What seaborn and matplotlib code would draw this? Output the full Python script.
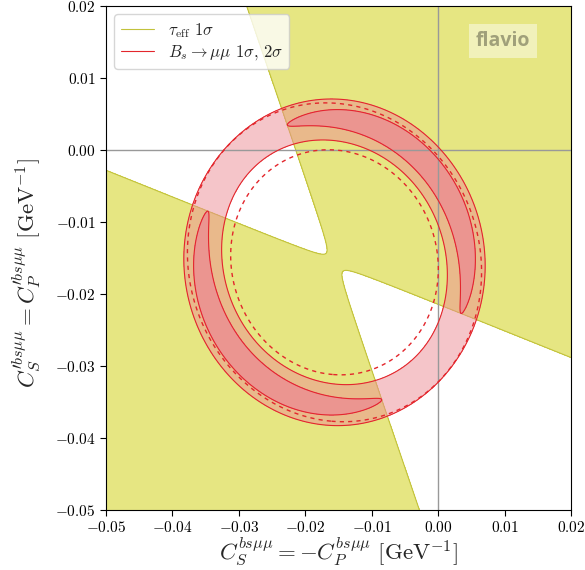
import numpy as np
import matplotlib
matplotlib.use('Agg')
import matplotlib.pyplot as plt
import seaborn as sns
from matplotlib.lines import Line2D

# centre of the Bs->mumu ring in the (C_S, C_S') plane
CENTER = [-0.0156, -0.0156]

# Bs->mumu branching ratio (solid, filled)
BS_R0 = 0.0200
BS_ERR = 0.1306
BS_YS = 0.05

# second Bs->mumu ring (dashed)
DASH_R0 = 0.01913
DASH_ERR = 0.1347
DASH_YS = 0.06

# effective lifetime -> A_DeltaGamma
ADG_MEAS = 2.29
ADG_ERR = 1.94
EPS = 0.0013

SIGMA_LEVELS = [2.30, 6.18]

X_RANGE = [-0.05, 0.02]
Y_RANGE = [-0.05, 0.02]
X_TICKS = [-0.05, -0.04, -0.03, -0.02, -0.01, 0.00, 0.01, 0.02]
Y_TICKS = [-0.05, -0.04, -0.03, -0.02, -0.01, 0.00, 0.01, 0.02]

YELLOW = '#e6e682'
OLIVE = '#c2c23c'
RED = '#e3262c'
PINK_2S = '#ed8d95'
PINK_1S = '#f0609a'

sns.set_style('ticks')
plt.rcParams.update({
    'font.family': 'serif',
    'font.serif': ['cmr10'],
    'mathtext.fontset': 'cm',
    'axes.formatter.use_mathtext': True,
    'axes.linewidth': 0.8,
})

# likelihood grid
xs = np.linspace(X_RANGE[0], X_RANGE[1], 801)
ys = np.linspace(Y_RANGE[0], Y_RANGE[1], 801)
xx, yy = np.meshgrid(xs, ys)
dx = xx - CENTER[0]
dy = yy - CENTER[1]
u = (dx - dy) / np.sqrt(2)
v = (dx + dy) / np.sqrt(2)
r2 = dx**2 + dy**2
adg = (v**2 - u**2) / (v**2 + u**2 + EPS**2)

chi2_tau = ((adg - ADG_MEAS) / ADG_ERR)**2
chi2_bs = ((r2 * (1 + BS_YS * adg) / BS_R0**2 - 1) / BS_ERR)**2
chi2_comb = chi2_bs + chi2_tau
chi2_dash = ((r2 * (1 + DASH_YS * adg) / DASH_R0**2 - 1) / DASH_ERR)**2

fig, ax = plt.subplots(figsize=(5.85, 5.70), dpi=100)
fig.subplots_adjust(left=0.1812, right=0.976, bottom=0.1053, top=0.9895)

# tau_eff 1 sigma
ax.contourf(xx, yy, chi2_tau, levels=[-1, SIGMA_LEVELS[0]], colors=[YELLOW], zorder=1)
ax.contour(xx, yy, chi2_tau, levels=[SIGMA_LEVELS[0]], colors=[OLIVE], linewidths=0.8, zorder=2)

# Bs->mumu 1 and 2 sigma
ax.contourf(xx, yy, chi2_comb, levels=SIGMA_LEVELS, colors=[PINK_2S], alpha=0.5, zorder=3)
ax.contourf(xx, yy, chi2_comb, levels=[-1, SIGMA_LEVELS[0]], colors=[PINK_1S], alpha=0.6, zorder=3)
ax.contour(xx, yy, chi2_comb, levels=SIGMA_LEVELS, colors=[RED], linewidths=0.8, zorder=5)
ax.contour(xx, yy, chi2_dash, levels=[SIGMA_LEVELS[1]], colors=[RED], linewidths=1.0,
           linestyles=[(0, (3, 3))], zorder=5)

ax.axhline(0, color='#999999', lw=1.0, zorder=4)
ax.axvline(0, color='#999999', lw=1.0, zorder=4)

ax.set_xlim(X_RANGE)
ax.set_ylim(Y_RANGE)
ax.set_xticks(X_TICKS)
ax.set_yticks(Y_TICKS)
ax.set_xticklabels([f'${t:.2f}$' for t in X_TICKS])
ax.set_yticklabels([f'${t:.2f}$' for t in Y_TICKS])
ax.tick_params(direction='out', length=4, width=0.8, labelsize=11, colors='black')
for s in ax.spines.values():
    s.set_color('black')
    s.set_zorder(10)

ax.set_xlabel(r'$C_S^{bs\mu\mu} = -C_P^{bs\mu\mu}\ [\mathrm{GeV}^{-1}]$', fontsize=16.5, labelpad=0)
ax.set_ylabel(r"$C_S^{\prime bs\mu\mu} = C_P^{\prime bs\mu\mu}\ [\mathrm{GeV}^{-1}]$", fontsize=16.5)
ax.yaxis.set_label_coords(-0.135, 0.47)

handles = [Line2D([], [], color=OLIVE, lw=0.8), Line2D([], [], color=RED, lw=0.8)]
labels = [r'$\tau_{\rm eff}$ $1\sigma$', r'$B_s\to\mu\mu$ $1\sigma$, $2\sigma$']
leg = ax.legend(handles, labels, loc='upper left', fontsize=12, frameon=True, framealpha=0.8,
                edgecolor='#cccccc', fancybox=True, labelspacing=0.2)
leg.set_zorder(20)

ax.text(0.795, 0.95, 'flavio', transform=ax.transAxes, ha='left', va='top', fontsize=14,
        fontweight='bold', family='Open Sans', color='#6a6a50', alpha=0.6, zorder=20,
        bbox=dict(facecolor='white', alpha=0.45, edgecolor='none', pad=5))

plt.savefig('out.png', dpi=100)
plt.close()
